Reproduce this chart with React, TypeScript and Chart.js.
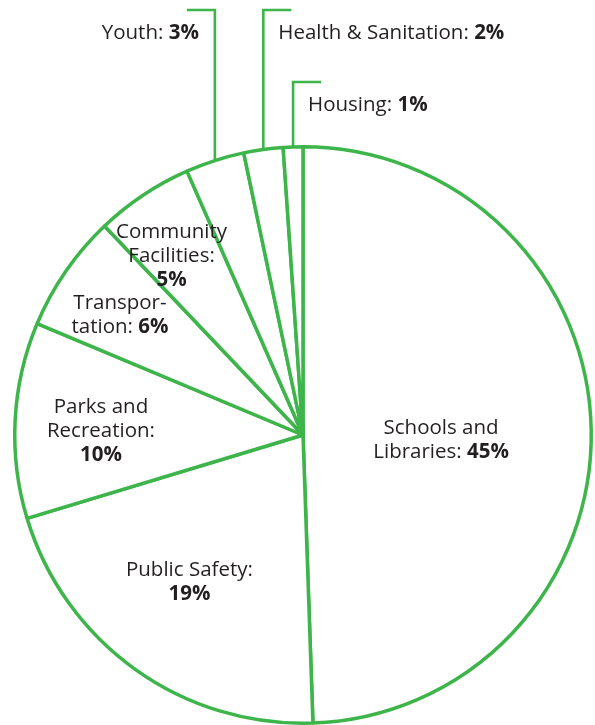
import React, { useEffect, useRef } from "react";
import { Chart, registerables } from "chart.js";

Chart.register(...registerables);

const categories = [
  "Schools and Libraries",
  "Public Safety",
  "Parks and Recreation",
  "Transportation",
  "Community Facilities",
  "Youth",
  "Health & Sanitation",
  "Housing",
];
const values = [45, 19, 10, 6, 5, 3, 2, 1];
const labelLines = [
  ["Schools and", "Libraries: {v}"],
  ["Public Safety:", "{v}"],
  ["Parks and", "Recreation:", "{v}"],
  ["Transpor-", "tation: {v}"],
  ["Community", "Facilities:", "{v}"],
  ["Youth: {v}"],
  ["Health & Sanitation: {v}"],
  ["Housing: {v}"],
];

const GREEN = "#3db54a";
const TEXT = "#231f20";
const FONT = "'Open Sans', sans-serif";
const FONT_SIZE = 20.5;
const LINE_H = 24;

// inside label block centres, as fractions of the radius (dx, dy)
const insideLayout: Record<number, [number, number]> = {
  0: [0.479, 0.019],
  1: [-0.394, 0.512],
  2: [-0.701, -0.015],
  3: [-0.635, -0.417],
  4: [-0.456, -0.622],
};
// callouts: top y of leader, side of tick
const calloutLayout: Record<number, { top: number; side: "left" | "right" }> = {
  5: { top: 10, side: "left" },
  6: { top: 10, side: "right" },
  7: { top: 82, side: "right" },
};

function drawRichLine(
  ctx: CanvasRenderingContext2D,
  line: string,
  value: string,
  x: number,
  y: number,
  align: "center" | "left" | "right"
) {
  const parts = line.split("{v}");
  const normal = parts[0];
  const hasV = parts.length > 1;
  ctx.font = `400 ${FONT_SIZE}px ${FONT}`;
  const wN = ctx.measureText(normal).width;
  ctx.font = `700 ${FONT_SIZE}px ${FONT}`;
  const wB = hasV ? ctx.measureText(value).width : 0;
  const total = wN + wB;
  let start = x;
  if (align === "center") start = x - total / 2;
  else if (align === "right") start = x - total;
  ctx.textAlign = "left";
  ctx.textBaseline = "middle";
  ctx.fillStyle = TEXT;
  ctx.font = `400 ${FONT_SIZE}px ${FONT}`;
  ctx.fillText(normal, start, y);
  if (hasV) {
    ctx.font = `700 ${FONT_SIZE}px ${FONT}`;
    ctx.fillText(value, start + wN, y);
  }
}

const labelPlugin = {
  id: "pieLabels",
  afterDraw(chart: any) {
    const ctx: CanvasRenderingContext2D = chart.ctx;
    const meta = chart.getDatasetMeta(0);
    ctx.save();
    meta.data.forEach((arc: any, i: number) => {
      const { x: cx, y: cy, outerRadius: R, startAngle, endAngle } = arc.getProps(
        ["x", "y", "outerRadius", "startAngle", "endAngle"],
        true
      );
      const v = values[i] + "%";
      const lines = labelLines[i];
      if (insideLayout[i]) {
        const [fx, fy] = insideLayout[i];
        const bx = cx + fx * R;
        const by = cy + fy * R;
        const y0 = by - ((lines.length - 1) * LINE_H) / 2;
        lines.forEach((ln, k) => drawRichLine(ctx, ln, v, bx, y0 + k * LINE_H, "center"));
      } else if (calloutLayout[i]) {
        const { top, side } = calloutLayout[i];
        const mid = (startAngle + endAngle) / 2;
        const px = cx + R * Math.cos(mid);
        const py = cy + R * Math.sin(mid);
        const tickEnd = side === "left" ? px - 28 : px + 28;
        ctx.strokeStyle = GREEN;
        ctx.lineWidth = 2.6;
        ctx.lineJoin = "miter";
        ctx.beginPath();
        ctx.moveTo(px, py);
        ctx.lineTo(px, top);
        ctx.lineTo(tickEnd, top);
        ctx.stroke();
        const ty = top + 23;
        if (side === "left") {
          drawRichLine(ctx, lines[0], v, tickEnd + 12, ty, "right");
        } else {
          drawRichLine(ctx, lines[0], v, px + 15, ty, "left");
        }
      }
    });
    ctx.restore();
  },
};

export default function App() {
  const ref = useRef<HTMLCanvasElement | null>(null);
  useEffect(() => {
    if (!ref.current) return;
    const chart = new Chart(ref.current, {
      type: "pie",
      data: {
        labels: categories,
        datasets: [
          {
            data: values,
            backgroundColor: "#ffffff",
            borderColor: GREEN,
            borderWidth: 3.5,
          },
        ],
      },
      options: {
        animation: false,
        responsive: false,
        maintainAspectRatio: false,
        layout: { padding: { left: 13, right: 2, top: 145, bottom: 0 } },
        plugins: {
          legend: { display: false },
          tooltip: { enabled: false },
        },
      },
      plugins: [labelPlugin],
    });
    return () => chart.destroy();
  }, []);
  return (
    <div style={{ position: "fixed", left: 0, top: 0, width: 595, height: 725, background: "#fff" }}>
      <canvas ref={ref} width={595} height={725} style={{ width: 595, height: 725 }} />
    </div>
  );
}
